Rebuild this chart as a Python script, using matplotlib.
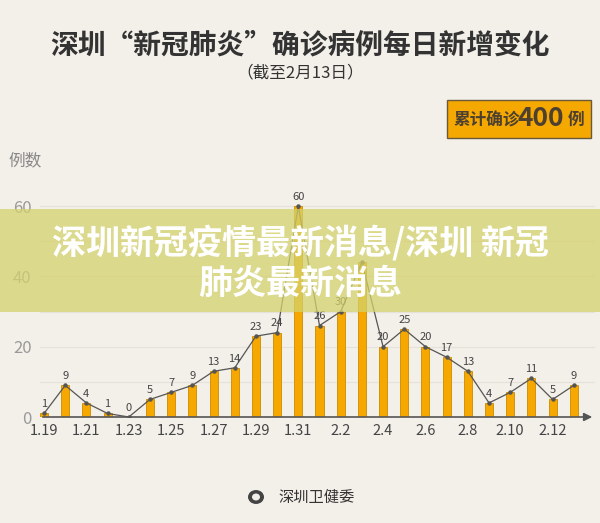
import matplotlib
matplotlib.use('Agg')
import matplotlib.pyplot as plt
from matplotlib.patches import Rectangle, Circle

plt.rcParams['font.family'] = ['Noto Sans CJK SC', 'DejaVu Sans']

# 每日新增确诊（1.19 - 2.13）
dates = ['1.19', '1.20', '1.21', '1.22', '1.23', '1.24', '1.25', '1.26', '1.27',
         '1.28', '1.29', '1.30', '1.31', '2.1', '2.2', '2.3', '2.4', '2.5', '2.6',
         '2.7', '2.8', '2.9', '2.10', '2.11', '2.12', '2.13']
cases = [1, 9, 4, 1, 0, 5, 7, 9, 13, 14, 23, 24, 60, 26, 30, 44, 20, 25, 20,
         17, 13, 4, 7, 11, 5, 9]
yticks = [0, 20, 40, 60]
total = 400

bg = '#f3efe9'
fig = plt.figure(figsize=(6, 5.23), dpi=100, facecolor=bg)
ax = fig.add_axes([40/600, 106/523, 555/600, 225/523])
ax.set_facecolor(bg)

x = list(range(len(dates)))
ax.set_xlim(-0.19, 26)
ax.set_ylim(0, 64)

# 网格线
for g in range(10, 61, 10):
    ax.axhline(g, color='#e6e1da', lw=0.9, zorder=0)

ax.bar(x, cases, width=0.38, color='#f7a800', edgecolor='#c98c00', lw=0.6, zorder=2)
ax.plot(x, cases, color='#555555', lw=0.9, marker='o', ms=2.2, zorder=3)
for i, v in zip(x, cases):
    if dates[i] == '2.3':
        continue
    ax.text(i, v + 1.2, str(v), ha='center', va='bottom', fontsize=8,
            color='#444444', zorder=4)

# x轴带箭头
ax.annotate('', xy=(1.0, 0), xytext=(0, 0), xycoords='axes fraction',
            arrowprops=dict(arrowstyle='-|>', color='#555555', lw=1.2,
                            mutation_scale=12), zorder=5, annotation_clip=False)

for s in ax.spines.values():
    s.set_visible(False)
ax.set_xticks(x[::2])
ax.set_xticklabels(dates[::2], fontsize=10.5, color='#444444')
ax.set_yticks(yticks)
ax.set_yticklabels([str(t) for t in yticks], fontsize=12, color='#9a9a9a')
ax.tick_params(length=0, pad=5)
ax.tick_params(axis='y', pad=6)

# 标题
fig.text(0.5, 1 - 45/523, '深圳“新冠肺炎”确诊病例每日新增变化', ha='center', va='center',
         fontsize=20, fontweight='bold', color='#333333')
fig.text(0.5, 1 - 73/523, '（截至2月13日）', ha='center', va='center',
         fontsize=12, color='#333333')
fig.text(8/600, 1 - 161/523, '例数', ha='left', va='center', fontsize=12, color='#888888')

# 累计框
fig.patches.append(Rectangle((447/600, 1 - 138/523), 144/600, 38/523,
                             transform=fig.transFigure, facecolor='#f5a800',
                             edgecolor='#6b5a3a', lw=1))
fig.text(454/600, 1 - 120/523, '累计确诊', ha='left', va='center', fontsize=12,
         fontweight='bold', color='#4d4030')
fig.text(541/600, 1 - 118/523, str(total), ha='center', va='center', fontsize=19,
         fontweight='bold', color='#4d4030')
fig.text(568/600, 1 - 120/523, '例', ha='left', va='center', fontsize=12,
         fontweight='bold', color='#4d4030')

# 底部来源
fig.patches.append(Circle((256/600, 1 - 497/523), 8/600, transform=fig.transFigure,
                          facecolor='#444444', edgecolor='none'))
fig.patches.append(Circle((256/600, 1 - 497/523), 4/600, transform=fig.transFigure,
                          facecolor=bg, edgecolor='none'))
fig.text(278/600, 1 - 497/523, '深圳卫健委', ha='left', va='center', fontsize=11,
         color='#333333')

# 叠加横幅
fig.patches.append(Rectangle((0, 1 - 312/523), 1, 103/523, transform=fig.transFigure,
                             facecolor='#d4d26d', alpha=0.75, edgecolor='none', zorder=10))
fig.text(0.5, 1 - 243/523, '深圳新冠疫情最新消息/深圳 新冠', ha='center', va='center',
         fontsize=24.5, fontweight='bold', color='white', zorder=11)
fig.text(0.5, 1 - 283/523, '肺炎最新消息', ha='center', va='center',
         fontsize=24.5, fontweight='bold', color='white', zorder=11)

fig.savefig('out.png', dpi=100, facecolor=bg)
